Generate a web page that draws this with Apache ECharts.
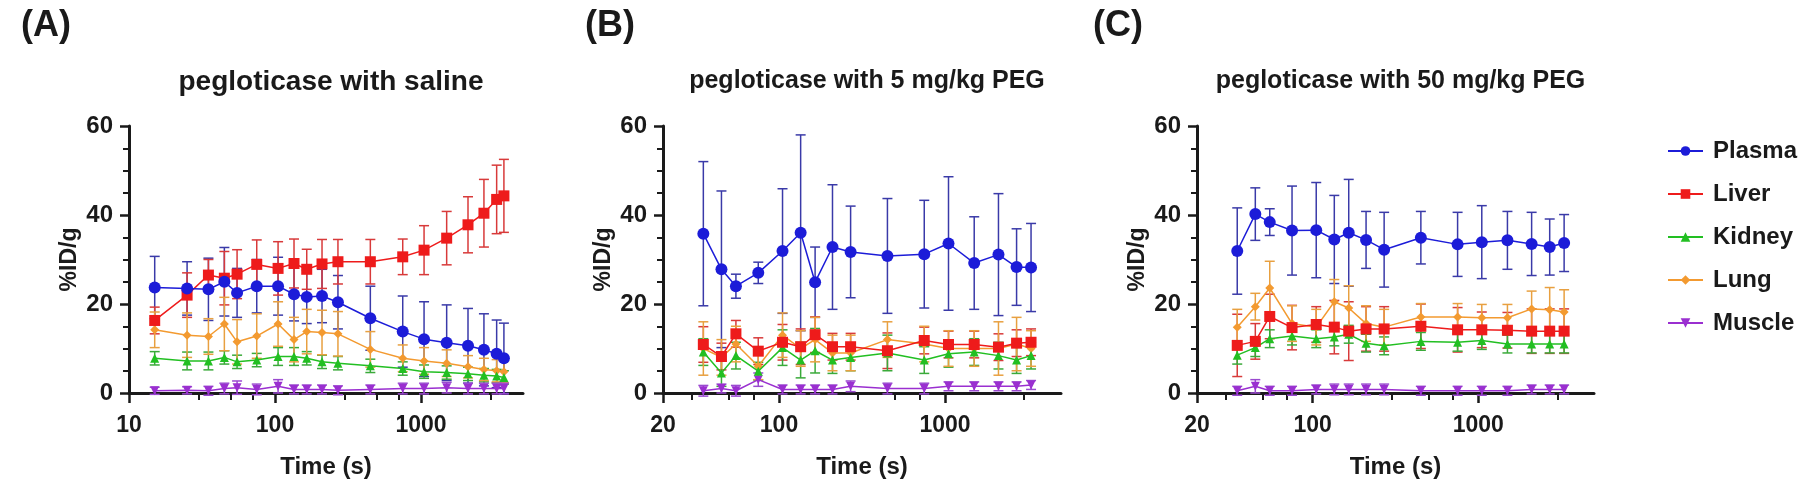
<!DOCTYPE html>
<html><head><meta charset="utf-8">
<script src="https://cdn.jsdelivr.net/npm/echarts@6/dist/echarts.min.js"></script>
<style>html,body{margin:0;padding:0;background:#fff}#c{width:1800px;height:486px}</style>
</head><body><div id="c"></div>
<script>
// ---------- data ----------
const seriesNames = ['Plasma', 'Liver', 'Kidney', 'Lung', 'Muscle'];
const panelTitles = ['pegloticase with saline', 'pegloticase with 5 mg/kg PEG', 'pegloticase with 50 mg/kg PEG'];
const panelLetters = ['(A)', '(B)', '(C)'];
const xMinA = 10, xMinB = 20, xMinC = 20, xMax = 5000;
const xMajorA = [10, 100, 1000];
const xMajorBC = [20, 100, 1000];
const xMinorTicks = [30, 50, 70, 300, 500, 700, 3000];

// Panel A (saline)
const timesA = [15, 25, 35, 45, 55, 75, 105, 135, 165, 210, 270, 450, 750, 1050, 1500, 2100, 2700, 3300, 3700];
const plasmaA = [23.7, 23.5, 23.3, 25.0, 22.5, 24.0, 24.0, 22.2, 21.6, 21.8, 20.4, 16.8, 13.8, 12.1, 11.3, 10.6, 9.7, 8.8, 7.8];
const plasmaSdA = [7, 6, 7, 7.7, 5.5, 6, 6.5, 6, 6, 6, 6, 7.2, 8, 8.4, 8.5, 8.4, 8.1, 7.6, 7.9];
const liverA = [16.3, 22.0, 26.5, 25.8, 26.7, 28.9, 28.0, 29.1, 27.8, 29.0, 29.5, 29.5, 30.6, 32.1, 34.8, 37.8, 40.4, 43.5, 44.3];
const liverSdA = [3, 5, 3.5, 6, 5.5, 5.5, 6, 5.5, 4.5, 5.5, 5, 5, 4, 5.5, 6, 6.3, 7.6, 7.7, 8.2];
const kidneyA = [7.8, 7.2, 7.2, 8.0, 7.0, 7.4, 8.2, 8.2, 7.8, 7.0, 6.7, 6.1, 5.5, 4.8, 4.6, 4.3, 4.0, 3.8, 3.5];
const kidneySdA = [1.5, 2, 2, 1.5, 1.5, 1.5, 2, 2, 1.5, 1.5, 1.5, 1.5, 1.5, 1.5, 1.5, 1.5, 1.5, 1.5, 1.5];
const lungA = [14.2, 13.0, 12.7, 15.5, 11.5, 12.8, 15.5, 12.0, 13.8, 13.6, 13.3, 9.8, 7.8, 7.2, 6.7, 5.9, 5.3, 5.0, 4.8];
const lungSdA = [4, 5, 4, 6, 5, 5, 5, 5, 5, 5, 5, 4, 3, 3, 3, 2.5, 2.5, 2.5, 2.5];
const muscleA = [0.5, 0.6, 0.5, 1.0, 1.2, 0.8, 1.5, 0.8, 0.8, 0.8, 0.6, 0.8, 1.0, 1.0, 1.2, 1.0, 1.0, 1.0, 1.0];
const muscleSdA = [0.8, 0.8, 1, 1.2, 1.5, 1.2, 1.5, 1, 1, 1, 1, 1, 1.2, 1.2, 1.2, 1.2, 1.2, 1.2, 1.2];

// Panel B (5 mg/kg PEG)
const timesB = [35, 45, 55, 75, 105, 135, 165, 210, 270, 450, 750, 1050, 1500, 2100, 2700, 3300];
const plasmaB = [35.8, 27.8, 24.0, 27.0, 31.9, 36.0, 24.9, 32.8, 31.7, 30.8, 31.2, 33.6, 29.2, 31.1, 28.3, 28.2];
const plasmaSdB = [16.2, 17.6, 2.7, 2.4, 14, 22, 7.9, 14, 10.3, 12.9, 12.1, 15, 10.4, 13.7, 8.6, 9.9];
const liverB = [10.9, 8.2, 13.3, 9.4, 11.4, 10.4, 13.1, 10.4, 10.4, 9.5, 11.8, 10.9, 10.9, 10.3, 11.2, 11.4];
const liverSdB = [4, 3, 3, 3, 4, 4, 4, 3, 3, 4, 3, 3, 3, 3, 3, 3];
const kidneyB = [9.2, 4.5, 8.4, 4.9, 10.2, 7.4, 9.5, 7.4, 8.0, 9.0, 7.4, 8.8, 9.2, 8.4, 7.4, 8.4];
const kidneySdB = [3, 3, 3, 2, 4, 4, 5, 3, 3, 4, 3, 3, 3, 3, 3, 3];
const lungB = [10, 8, 11, 6, 13, 10, 12, 9, 9, 12, 11, 10, 10, 10, 11, 10];
const lungSdB = [6, 4, 4, 3, 5, 4, 5, 4, 4, 4, 4, 4, 4, 6, 6, 4];
const muscleB = [0.5, 1.0, 0.5, 3.0, 0.8, 0.8, 0.8, 0.8, 1.5, 1.0, 1.0, 1.5, 1.5, 1.5, 1.5, 1.8];
const muscleSdB = [1.2, 1, 1.2, 1.5, 1, 1, 1, 1, 1.2, 1.2, 1.2, 1, 1, 1, 1, 1];

// Panel C (50 mg/kg PEG)
const timesC = [35, 45, 55, 75, 105, 135, 165, 210, 270, 450, 750, 1050, 1500, 2100, 2700, 3300];
const plasmaC = [31.9, 40.2, 38.4, 36.5, 36.6, 34.5, 36.0, 34.4, 32.2, 34.9, 33.4, 33.9, 34.3, 33.5, 32.8, 33.7];
const plasmaSdC = [9.7, 5.9, 3, 10, 10.7, 9.9, 12, 6.4, 8.4, 5.9, 7.2, 8.2, 6.5, 7.1, 6.3, 6.4];
const liverC = [10.7, 11.6, 17.2, 14.7, 15.4, 14.8, 13.9, 14.4, 14.4, 15.0, 14.2, 14.2, 14.1, 13.9, 13.9, 13.9];
const liverSdC = [7, 4, 5, 5, 4, 6, 6.6, 5, 5, 5, 5, 4, 4, 5, 5, 5];
const kidneyC = [8.5, 10.2, 12.2, 12.8, 12.2, 12.6, 13.2, 11.2, 10.6, 11.6, 11.4, 11.8, 11.0, 11.0, 11.0, 11.0];
const kidneySdC = [2, 2, 2, 2, 2, 2, 2, 2, 2, 2, 2, 2, 2, 2, 2, 2];
const lungC = [14.8, 19.4, 23.6, 15.6, 14.8, 20.5, 19.1, 15.6, 14.8, 17.1, 17.1, 16.9, 16.9, 18.9, 18.7, 18.2];
const lungSdC = [4, 3, 6, 4, 4, 5, 5, 4, 4, 3, 3, 3, 3, 4, 5, 5];
const muscleC = [0.5, 1.5, 0.5, 0.5, 0.8, 0.8, 0.8, 0.8, 0.8, 0.5, 0.5, 0.5, 0.5, 0.8, 0.8, 0.8];
const muscleSdC = [1, 1.5, 1, 1, 1, 1.2, 1.2, 1.2, 1.2, 1, 1, 1, 1, 1, 1, 1];

// ---------- styling ----------
const colors = ['#1c1cd8', '#ee1b1b', '#22bf22', '#f39a30', '#9a2fd0'];
const barColors = ['#3a3aa8', '#d83a3a', '#3aaa3a', '#e8a040', '#9a4ad0'];
const symbols = ['circle', 'rect', 'triangle', 'diamond', 'path://M0,0L2,0L1,1.7Z'];
const symSizes = [12, 11, 9, 9, 9];
const FONT = 'Liberation Sans, Arial, sans-serif';
const INK = '#1a1a1a';

const panels = [
  { t: timesA, vals: [plasmaA, liverA, kidneyA, lungA, muscleA], sds: [plasmaSdA, liverSdA, kidneySdA, lungSdA, muscleSdA], min: xMinA, major: xMajorA },
  { t: timesB, vals: [plasmaB, liverB, kidneyB, lungB, muscleB], sds: [plasmaSdB, liverSdB, kidneySdB, lungSdB, muscleSdB], min: xMinB, major: xMajorBC },
  { t: timesC, vals: [plasmaC, liverC, kidneyC, lungC, muscleC], sds: [plasmaSdC, liverSdC, kidneySdC, lungSdC, muscleSdC], min: xMinC, major: xMajorBC }
];
const grids = [
  { left: 129, top: 126, width: 394, height: 267 },
  { left: 663, top: 126, width: 398, height: 267 },
  { left: 1197, top: 126, width: 397, height: 267 }
];

const xAxes = [], yAxes = [], series = [];
panels.forEach((p, gi) => {
  xAxes.push({
    gridIndex: gi, type: 'log', logBase: 10, min: p.min, max: xMax, position: 'bottom',
    axisLine: { show: true, onZero: false, lineStyle: { color: INK, width: 3 } },
    axisTick: { show: true, customValues: p.major, length: 10, lineStyle: { color: INK, width: 2.5 } },
    axisLabel: { show: true, customValues: p.major, formatter: v => String(Math.round(v)), color: INK, fontFamily: FONT, fontWeight: 'bold', fontSize: 23, margin: 21 },
    splitLine: { show: false }, minorTick: { show: false },
    name: 'Time (s)', nameLocation: 'middle', nameGap: 62,
    nameTextStyle: { color: INK, fontFamily: FONT, fontWeight: 'bold', fontSize: 24 }
  });
  xAxes.push({
    gridIndex: gi, type: 'log', logBase: 10, min: p.min, max: xMax, position: 'bottom',
    axisLine: { show: true, onZero: false, lineStyle: { color: INK, width: 0, opacity: 0 } },
    axisTick: { show: true, customValues: xMinorTicks, length: 7, lineStyle: { color: INK, width: 2 } },
    axisLabel: { show: false }, splitLine: { show: false }
  });
  yAxes.push({
    gridIndex: gi, type: 'value', min: 0, max: 60, interval: 20,
    axisLine: { show: true, lineStyle: { color: INK, width: 3 } },
    axisTick: { show: true, length: 9, lineStyle: { color: INK, width: 2.5 } },
    minorTick: { show: true, splitNumber: 4, length: 6, lineStyle: { color: INK, width: 2 } },
    axisLabel: { color: INK, fontFamily: FONT, fontWeight: 'bold', fontSize: 24, margin: 16 },
    splitLine: { show: false }, minorSplitLine: { show: false },
    name: '%ID/g', nameLocation: 'middle', nameGap: 48,
    nameTextStyle: { color: INK, fontFamily: FONT, fontWeight: 'bold', fontSize: 23 }
  });
  const xi = gi * 2;
  seriesNames.forEach((nm, si) => {
    const rows = p.t.map((tt, k) => [tt, p.vals[si][k], p.sds[si][k]]);
    series.push({
      type: 'custom', name: nm + ' SD', xAxisIndex: xi, yAxisIndex: gi, clip: false, z: 2 + si * 0.01,
      data: rows, silent: true,
      encode: { x: 0, y: 1 },
      renderItem: function (params, api) {
        const x = api.value(0), y = api.value(1), sd = api.value(2);
        const c = api.coord([x, y]);
        const hi = api.coord([x, y + sd]);
        const lo = api.coord([x, y - sd]);
        const w = 5;
        const st = { stroke: barColors[si], lineWidth: 1.5 };
        return {
          type: 'group', children: [
            { type: 'line', shape: { x1: c[0], y1: hi[1], x2: c[0], y2: lo[1] }, style: st },
            { type: 'line', shape: { x1: c[0] - w, y1: hi[1], x2: c[0] + w, y2: hi[1] }, style: st },
            { type: 'line', shape: { x1: c[0] - w, y1: lo[1], x2: c[0] + w, y2: lo[1] }, style: st }
          ]
        };
      }
    });
    series.push({
      type: 'line', name: nm, xAxisIndex: xi, yAxisIndex: gi, z: 5 + (4 - si) * 0.1,
      data: rows.map(r => [r[0], r[1]]),
      symbol: symbols[si], symbolSize: symSizes[si], showSymbol: true,
      itemStyle: { color: colors[si] },
      lineStyle: { color: colors[si], width: 1.5 },
      clip: false, animation: false
    });
  });
});

const titles = [];
panelLetters.forEach((l, i) => {
  titles.push({ text: l, left: [16, 580, 1088][i], top: 3,
    textStyle: { fontFamily: FONT, fontWeight: 'bold', fontSize: 36, color: INK } });
});
panelTitles.forEach((t, i) => {
  const g = grids[i];
  titles.push({ text: t, left: g.left + g.width / 2, top: [63, 64, 64][i], textAlign: 'center',
    textStyle: { fontFamily: FONT, fontWeight: 'bold', fontSize: [28, 25, 25][i], color: INK } });
});

const chart = echarts.init(document.getElementById('c'), null, { renderer: 'canvas' });
chart.setOption({
  animation: false,
  backgroundColor: '#ffffff',
  title: titles,
  grid: grids,
  xAxis: xAxes,
  yAxis: yAxes,
  legend: {
    data: seriesNames, orient: 'vertical', left: 1662, top: 134, itemGap: 19,
    itemWidth: 35, itemHeight: 12,
    textStyle: { fontFamily: FONT, fontWeight: 'bold', fontSize: 24, color: INK, padding: [0, 0, 0, 5] }
  },
  series: series
});
</script>
</body></html>
